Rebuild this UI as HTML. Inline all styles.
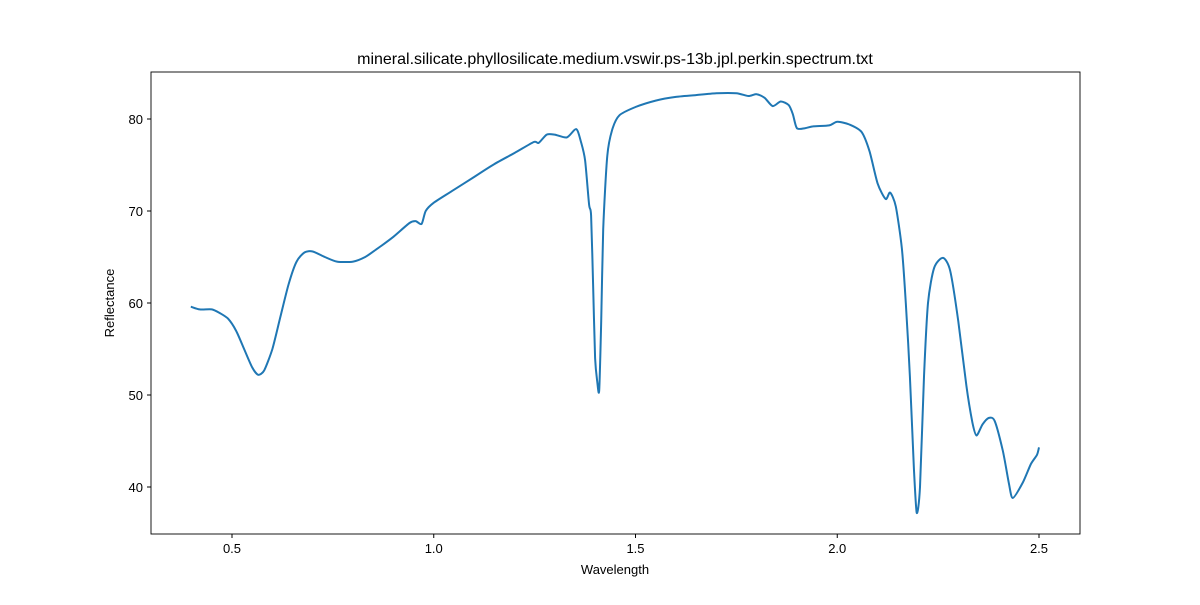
<!DOCTYPE html>
<html><head><meta charset="utf-8"><style>
body{margin:0;background:#fff;font-family:"Liberation Sans","DejaVu Sans",sans-serif}
</style></head><body>
<svg width="1200" height="600" font-family="Liberation Sans, DejaVu Sans, sans-serif">
<rect width="1200" height="600" fill="#fff"/>
<text x="615" y="64" text-anchor="middle" font-size="16">mineral.silicate.phyllosilicate.medium.vswir.ps-13b.jpl.perkin.spectrum.txt</text>
<g id="axes"></g>
<path id="line" fill="none" stroke="#1f77b4" stroke-width="2" stroke-linejoin="round"/>
<rect x="151" y="72" width="929" height="462" fill="none" stroke="#000" stroke-width="0.9"/>
<text x="615" y="574" text-anchor="middle" font-size="13">Wavelength</text>
<text transform="translate(114,303) rotate(-90)" text-anchor="middle" font-size="13">Reflectance</text>
</svg>
<script>
const wavelengths=[0.398,0.42,0.45,0.47,0.49,0.51,0.53,0.55,0.565,0.58,0.60,0.62,0.64,0.66,0.68,0.70,0.73,0.76,0.80,0.83,0.86,0.9,0.94,0.955,0.97,0.98,1.0,1.05,1.1,1.15,1.2,1.248,1.26,1.28,1.3,1.33,1.353,1.365,1.375,1.385,1.39,1.395,1.40,1.405,1.41,1.415,1.42,1.43,1.442,1.46,1.5,1.55,1.6,1.65,1.7,1.75,1.78,1.80,1.82,1.84,1.86,1.88,1.89,1.90,1.92,1.94,1.98,2.0,2.03,2.06,2.08,2.10,2.12,2.131,2.145,2.16,2.17,2.18,2.19,2.197,2.205,2.215,2.225,2.24,2.262,2.28,2.30,2.32,2.335,2.345,2.36,2.375,2.39,2.41,2.425,2.435,2.46,2.48,2.495,2.5];
const reflectance=[59.6,59.3,59.3,58.9,58.3,57.0,55.0,53.0,52.2,52.7,55.0,58.5,62.0,64.5,65.5,65.6,65.0,64.5,64.5,65.0,65.9,67.2,68.7,68.9,68.6,70.0,70.9,72.3,73.7,75.1,76.3,77.5,77.4,78.3,78.3,78.0,78.9,77.5,75.5,70.7,69.5,62,54,51.5,50.5,58,68,76,78.8,80.4,81.3,82.0,82.4,82.6,82.8,82.8,82.5,82.7,82.3,81.4,81.9,81.5,80.5,79.0,79.0,79.2,79.3,79.7,79.4,78.6,76.5,73.0,71.3,72.0,70.5,66,60,52,42,37.2,40,52,60,63.8,64.9,63.5,58,51,47,45.6,46.8,47.5,47.2,44,40.5,38.8,40.5,42.5,43.5,44.3];
const xTicks=[0.5,1.0,1.5,2.0,2.5];
const yTicks=[40,50,60,70,80];
const X=w=>232+(w-0.5)*403.5;
const Y=r=>119+(80-r)*9.2;
const ns="http://www.w3.org/2000/svg";
const ax=document.getElementById('axes');
xTicks.forEach(t=>{
  const l=document.createElementNS(ns,'line');
  l.setAttribute('x1',X(t));l.setAttribute('x2',X(t));l.setAttribute('y1',534);l.setAttribute('y2',538);l.setAttribute('stroke','#000');
  
  
  ax.appendChild(l);
  const s=document.createElementNS(ns,'text');
  s.setAttribute('x',X(t));s.setAttribute('y',553);s.setAttribute('text-anchor','middle');s.setAttribute('font-size','13');
  s.textContent=t.toFixed(1);
  
  
  ax.appendChild(s);
});
yTicks.forEach(t=>{
  const l=document.createElementNS(ns,'line');
  l.setAttribute('x1',147);l.setAttribute('x2',151);l.setAttribute('y1',Y(t));l.setAttribute('y2',Y(t));l.setAttribute('stroke','#000');
  
  
  ax.appendChild(l);
  const s=document.createElementNS(ns,'text');
  s.setAttribute('x',143);s.setAttribute('y',Y(t)+5);s.setAttribute('text-anchor','end');s.setAttribute('font-size','13');
  s.textContent=t;
  
  
  ax.appendChild(s);
});
const P=wavelengths.map((w,i)=>[X(w),Y(reflectance[i])]);
let d='M'+P[0][0].toFixed(1)+','+P[0][1].toFixed(1);
for(let i=0;i<P.length-1;i++){
  const p0=P[Math.max(0,i-1)],p1=P[i],p2=P[i+1],p3=P[Math.min(P.length-1,i+2)];
  const k=1/8;
  const c1=[p1[0]+(p2[0]-p0[0])*k,p1[1]+(p2[1]-p0[1])*k];
  const c2=[p2[0]-(p3[0]-p1[0])*k,p2[1]-(p3[1]-p1[1])*k];
  d+='C'+c1[0].toFixed(1)+','+c1[1].toFixed(1)+' '+c2[0].toFixed(1)+','+c2[1].toFixed(1)+' '+p2[0].toFixed(1)+','+p2[1].toFixed(1);
}
document.getElementById('line').setAttribute('d',d);
</script>
</body></html>
